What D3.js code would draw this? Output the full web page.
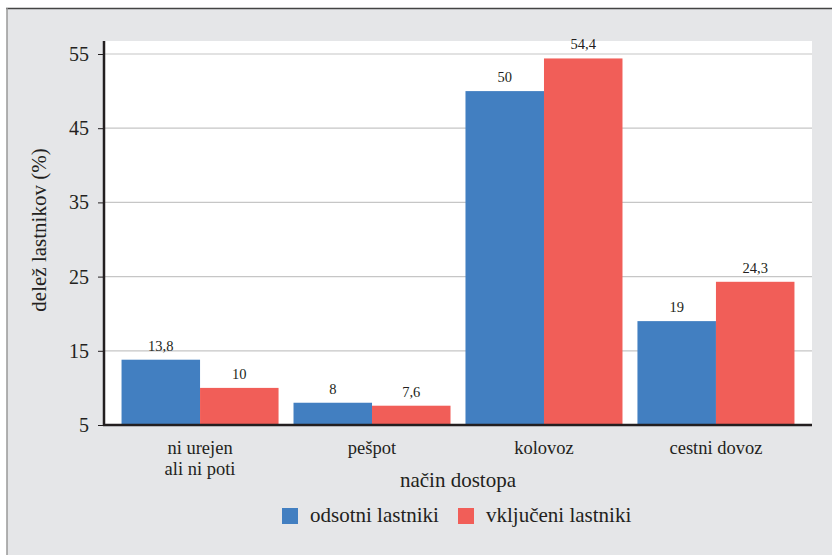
<!DOCTYPE html>
<html>
<head>
<meta charset="utf-8">
<script src="https://cdn.jsdelivr.net/npm/d3@7"></script>
<style>
  html, body { margin: 0; padding: 0; background: #fff; }
  svg { display: block; }
</style>
</head>
<body>
<svg id="chart" width="832" height="555"></svg>
<script>
// Access type categories (two-line labels split on "\n")
const categories = ["ni urejen\nali ni poti", "pešpot", "kolovoz", "cestni dovoz"];
// Share of owners (%) per series
const odsotni = [13.8, 8, 50, 19];
const vkljuceni = [10, 7.6, 54.4, 24.3];
const seriesNames = ["odsotni lastniki", "vključeni lastniki"];
const seriesColors = ["#427fc1", "#f15e58"];
const yTicks = [5, 15, 25, 35, 45, 55];

const FONT = '"Liberation Serif"';
const INK = "#231f20";

const svg = d3.select("#chart");
const W = 832, H = 555;

// Panel background with top and left rules
svg.append("rect").attr("x", 7).attr("y", 8).attr("width", W - 7).attr("height", H - 8).attr("fill", "#e5e6e8");
svg.append("line").attr("x1", 6).attr("x2", W).attr("y1", 8.5).attr("y2", 8.5).attr("stroke", "#444").attr("stroke-width", 1.5);
svg.append("line").attr("x1", 7).attr("x2", 7).attr("y1", 8).attr("y2", H).attr("stroke", "#999").attr("stroke-width", 1.5);

const plot = { left: 104, right: 812, top: 41, bottom: 425 };

// White plotting area
svg.append("rect").attr("x", plot.left).attr("y", plot.top)
  .attr("width", plot.right - plot.left).attr("height", plot.bottom - plot.top).attr("fill", "#fff");

const y = d3.scaleLinear().domain([5, 55]).range([plot.bottom, 54]);
const x0 = d3.scaleBand().domain(categories).range([plot.left, plot.right])
  .paddingInner(0.087).paddingOuter(0.102);
const x1 = d3.scaleBand().domain([0, 1]).range([0, x0.bandwidth()]);

// Horizontal gridlines
svg.append("g").selectAll("line").data(yTicks.filter(t => t > 5)).join("line")
  .attr("x1", plot.left).attr("x2", plot.right)
  .attr("y1", d => y(d)).attr("y2", d => y(d))
  .attr("stroke", "#c6c6c6").attr("stroke-width", 1.2);

// Bars
const rows = categories.map((c, i) => ({ cat: c, vals: [odsotni[i], vkljuceni[i]] }));
const grp = svg.append("g").selectAll("g").data(rows).join("g")
  .attr("transform", d => `translate(${x0(d.cat)},0)`);
grp.selectAll("rect").data(d => d.vals.map((v, k) => ({ v, k }))).join("rect")
  .attr("x", d => x1(d.k)).attr("width", x1.bandwidth())
  .attr("y", d => y(d.v)).attr("height", d => y(5) - y(d.v))
  .attr("fill", d => seriesColors[d.k]);
grp.selectAll("text.val").data(d => d.vals.map((v, k) => ({ v, k }))).join("text")
  .attr("class", "val")
  .attr("x", d => x1(d.k) + x1.bandwidth() / 2)
  .attr("y", d => y(d.v) - 9)
  .attr("text-anchor", "middle")
  .style("font-family", FONT).style("font-size", "14.5px").style("fill", INK)
  .text(d => String(d.v).replace(".", ","));

// Y axis
const yAxis = svg.append("g").attr("transform", `translate(${plot.left},0)`)
  .call(d3.axisLeft(y).tickValues(yTicks).tickSize(6).tickPadding(9));
yAxis.select(".domain").attr("d", `M0,${plot.top}V${plot.bottom + 1}`).attr("stroke", INK).attr("stroke-width", 2.5);
yAxis.selectAll(".tick line").attr("stroke", INK).attr("stroke-width", 1);
yAxis.selectAll(".tick text")
  .style("font-family", FONT).style("font-size", "20px").style("fill", INK);

// X axis line
svg.append("line").attr("x1", plot.left - 1).attr("x2", plot.right)
  .attr("y1", plot.bottom).attr("y2", plot.bottom)
  .attr("stroke", INK).attr("stroke-width", 2.5);

// Category labels
svg.append("g").selectAll("text").data(categories).join("text")
  .attr("text-anchor", "middle")
  .style("font-family", FONT).style("font-size", "18.5px").style("fill", INK)
  .attr("transform", d => `translate(${x0(d) + x0.bandwidth() / 2},${454})`)
  .selectAll("tspan").data(d => d.split("\n")).join("tspan")
  .attr("x", 0).attr("dy", (d, i) => i === 0 ? 0 : 21).text(d => d);

// Axis titles
svg.append("text").attr("x", (plot.left + plot.right) / 2).attr("y", 487)
  .attr("text-anchor", "middle")
  .style("font-family", FONT).style("font-size", "21px").style("fill", INK)
  .text("način dostopa");
svg.append("text").attr("transform", `translate(46,230) rotate(-90)`)
  .attr("text-anchor", "middle")
  .style("font-family", FONT).style("font-size", "21px").style("fill", INK)
  .text("delež lastnikov (%)");

// Legend
const legendX = [282, 458];
const leg = svg.append("g").selectAll("g").data(seriesNames).join("g")
  .attr("transform", (d, i) => `translate(${legendX[i]},508)`);
leg.append("rect").attr("width", 16).attr("height", 16).attr("fill", (d, i) => seriesColors[i]);
leg.append("text").attr("x", 28).attr("y", 14)
  .style("font-family", FONT).style("font-size", "21px").style("fill", INK)
  .text(d => d);
</script>
</body>
</html>
